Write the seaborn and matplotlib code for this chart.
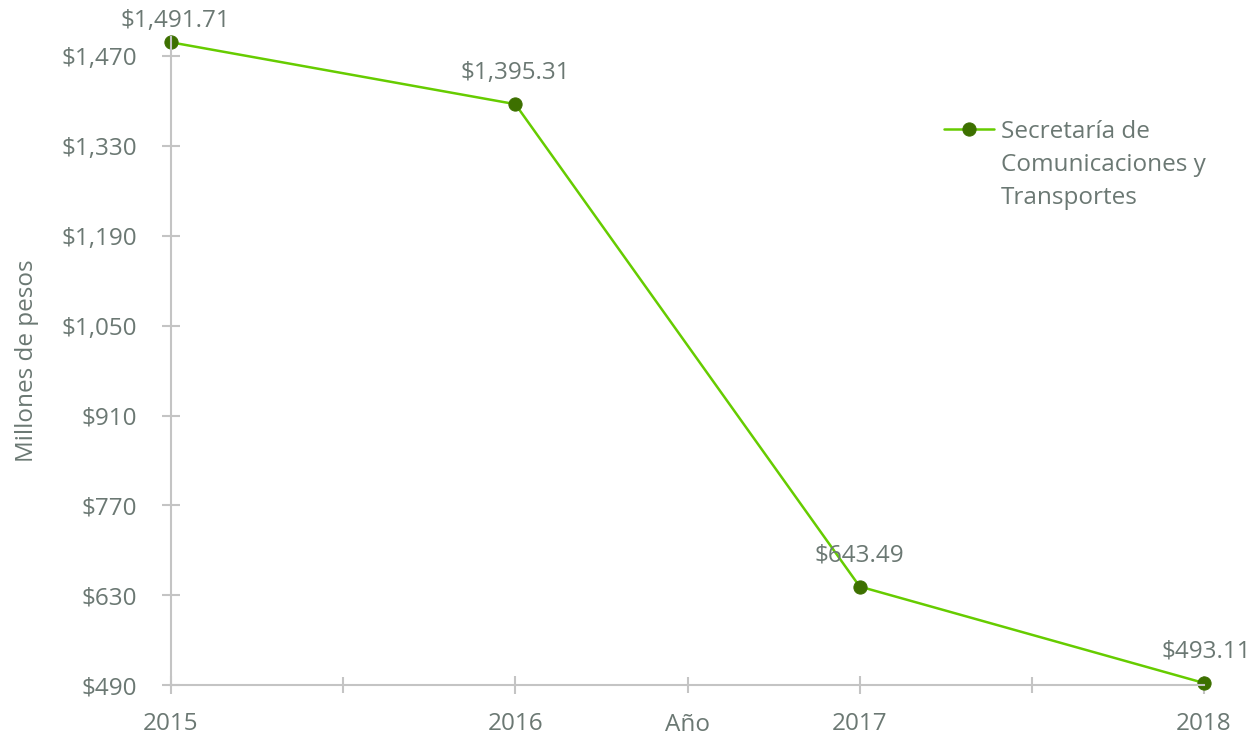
import matplotlib
matplotlib.use("Agg")
import matplotlib.pyplot as plt
import seaborn as sns
import pandas as pd
from matplotlib.ticker import FuncFormatter, MultipleLocator

# Data
years = [2015, 2016, 2017, 2018]
montos = [1491.71, 1395.31, 643.49, 493.11]
serie = "Secretaría de\nComunicaciones y\nTransportes"
y_ticks = [490, 630, 770, 910, 1050, 1190, 1330, 1470]

df = pd.DataFrame({"Año": years, "Monto": montos, "Serie": serie})

sns.set_theme(style="white")
plt.rcParams['font.family'] = ['Open Sans', 'DejaVu Sans']

TEXT = "#6b7873"
AXIS = "#c4c4c4"
LINE = "#66cc00"
MARK = "#3d7000"
FS = 17.5

fig = plt.figure(figsize=(12.55, 7.38), dpi=100)
ax = fig.add_axes([171 / 1255, 53 / 738, (1204 - 171) / 1255, (685 - 37) / 738])

sns.lineplot(data=df, x="Año", y="Monto", hue="Serie", palette=[LINE],
             marker="o", markersize=9.5, markerfacecolor=MARK, markeredgecolor=MARK,
             linewidth=1.8, ax=ax, clip_on=False)

# data labels
offsets = [(3, 7), (0, 14), (0, 14), (2, 14)]
for x, y, off in zip(years, montos, offsets):
    ax.annotate(f"${y:,.2f}", (x, y), xytext=off, textcoords="offset points",
                ha="center", va="bottom", fontsize=FS, color=TEXT)

ax.set_xlim(2015, 2018)
ax.set_ylim(490, 1500)
ax.set_yticks(y_ticks)
ax.yaxis.set_major_formatter(FuncFormatter(lambda v, p: f"${v:,.0f}"))
ax.set_xticks(years)
ax.xaxis.set_minor_locator(MultipleLocator(0.5))

for side in ["top", "right"]:
    ax.spines[side].set_visible(False)
for side in ["left", "bottom"]:
    ax.spines[side].set_color(AXIS)
    ax.spines[side].set_linewidth(1.5)

ax.tick_params(axis="both", which="both", direction="inout", color=AXIS, width=1.5,
               labelsize=FS, labelcolor=TEXT)
ax.tick_params(axis="y", which="major", left=True, length=13, pad=18)
ax.tick_params(axis="y", which="minor", left=False)
ax.tick_params(axis="x", which="major", bottom=True, length=13, pad=13)
ax.tick_params(axis="x", which="minor", bottom=True, length=11, labelbottom=False)

ax.set_ylabel("Millones de pesos", fontsize=FS, color=TEXT)
ax.yaxis.set_label_coords(-0.128, 0.5)
ax.set_xlabel("Año", fontsize=FS, color=TEXT)
ax.xaxis.set_label_coords(0.5, -0.043)

leg = ax.legend(loc="upper left", bbox_to_anchor=(0.727, 0.905), frameon=False,
                fontsize=FS, handlelength=2.05, handletextpad=0.3)
for t in leg.get_texts():
    t.set_color(TEXT)
    t.set_linespacing(1.5)
# keep the legend marker level with the first text line
for col in leg._legend_handle_box.get_children():
    for row in col.get_children():
        row.align = "top"

fig.savefig("out.png", dpi=100)
